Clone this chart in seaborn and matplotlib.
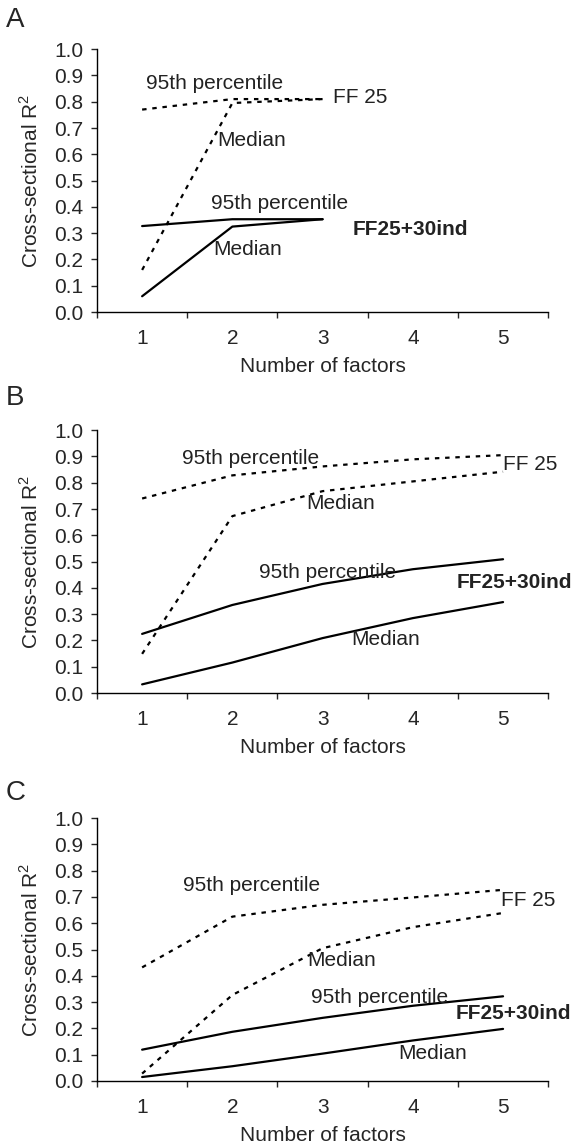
import pandas as pd
import seaborn as sns
import matplotlib.pyplot as plt
from matplotlib.ticker import FixedLocator

# Panel A: only 1-3 factors
a_factors = [1, 2, 3]
a_ff25_p95 = [0.77, 0.81, 0.81]
a_ff25_med = [0.16, 0.795, 0.81]
a_ind_p95 = [0.327, 0.353, 0.353]
a_ind_med = [0.06, 0.325, 0.353]

# Panel B
b_factors = [1, 2, 3, 4, 5]
b_ff25_p95 = [0.74, 0.828, 0.862, 0.889, 0.905]
b_ff25_med = [0.149, 0.673, 0.768, 0.805, 0.842]
b_ind_p95 = [0.225, 0.335, 0.415, 0.471, 0.509]
b_ind_med = [0.033, 0.116, 0.209, 0.285, 0.346]

# Panel C
c_factors = [1, 2, 3, 4, 5]
c_ff25_p95 = [0.432, 0.625, 0.67, 0.698, 0.727]
c_ff25_med = [0.028, 0.327, 0.505, 0.585, 0.639]
c_ind_p95 = [0.119, 0.187, 0.24, 0.286, 0.322]
c_ind_med = [0.015, 0.056, 0.104, 0.154, 0.198]

x_ticks = [1, 2, 3, 4, 5]
y_ticks = [0.0, 0.1, 0.2, 0.3, 0.4, 0.5, 0.6, 0.7, 0.8, 0.9, 1.0]

# annotation text positions per panel: (text, x, y, bold)
a_notes = [('95th percentile', 1.044, 0.871, False), ('FF 25', 3.12, 0.817, False),
           ('Median', 1.83, 0.654, False), ('95th percentile', 1.76, 0.414, False),
           ('FF25+30ind', 3.33, 0.315, True), ('Median', 1.79, 0.236, False)]
b_notes = [('95th percentile', 1.44, 0.893, False), ('FF 25', 5.0, 0.87, False),
           ('Median', 2.82, 0.721, False), ('95th percentile', 2.29, 0.458, False),
           ('FF25+30ind', 4.49, 0.42, True), ('Median', 3.32, 0.202, False)]
c_notes = [('95th percentile', 1.456, 0.745, False), ('FF 25', 4.978, 0.688, False),
           ('Median', 2.833, 0.46, False), ('95th percentile', 2.867, 0.316, False),
           ('FF25+30ind', 4.478, 0.255, True), ('Median', 3.833, 0.106, False)]

sns.set_style('ticks')
plt.rcParams['font.family'] = ['Liberation Sans', 'DejaVu Sans']
plt.rcParams['mathtext.fontset'] = 'custom'
plt.rcParams['mathtext.rm'] = 'Liberation Sans'
FS = 15
DASH = (0, (2.0, 2.6))


def draw_panel(ax, factors, ff25_p95, ff25_med, ind_p95, ind_med, notes):
    df = pd.DataFrame({'factors': factors, 'ff25_p95': ff25_p95, 'ff25_med': ff25_med,
                       'ind_p95': ind_p95, 'ind_med': ind_med})
    for col in ['ff25_p95', 'ff25_med']:
        sns.lineplot(data=df, x='factors', y=col, ax=ax, color='black', lw=1.6, linestyle=DASH)
    for col in ['ind_p95', 'ind_med']:
        sns.lineplot(data=df, x='factors', y=col, ax=ax, color='black', lw=1.6)
    for txt, x, y, bold in notes:
        ax.text(x, y, txt, fontsize=FS, ha='left', va='center', color='#222222',
                fontweight='bold' if bold else 'normal')
    ax.set_xlim(0.5, 5.5)
    ax.set_ylim(0, 1.0)
    ax.set_xticks(x_ticks)
    ax.xaxis.set_minor_locator(FixedLocator([0.5, 1.5, 2.5, 3.5, 4.5, 5.5]))
    ax.tick_params(axis='x', which='major', length=0, pad=12, labelsize=FS)
    ax.tick_params(axis='x', which='minor', length=4, width=1, direction='out')
    ax.set_yticks(y_ticks)
    ax.set_yticklabels([f'{v:.1f}' for v in y_ticks])
    ax.tick_params(axis='y', length=4, width=1, pad=6, labelsize=FS)
    ax.set_xlabel('Number of factors', fontsize=FS, labelpad=7)
    ax.set_ylabel(r'Cross-sectional R$^\mathregular{2}$', fontsize=FS, labelpad=9)
    for s in ['left', 'bottom']:
        ax.spines[s].set_linewidth(1)
        ax.spines[s].set_color('black')
    sns.despine(ax=ax)


fig = plt.figure(figsize=(5.74, 11.48), dpi=100)
ax_a = fig.add_axes([0.169, 0.7282, 0.786, 0.229])
ax_b = fig.add_axes([0.169, 0.3963, 0.786, 0.229])
ax_c = fig.add_axes([0.169, 0.0584, 0.786, 0.229])

draw_panel(ax_a, a_factors, a_ff25_p95, a_ff25_med, a_ind_p95, a_ind_med, a_notes)
draw_panel(ax_b, b_factors, b_ff25_p95, b_ff25_med, b_ind_p95, b_ind_med, b_notes)
draw_panel(ax_c, c_factors, c_ff25_p95, c_ff25_med, c_ind_p95, c_ind_med, c_notes)

fig.text(0.010, 1 - 20 / 1148, 'A', fontsize=20, va='center', ha='left')
fig.text(0.010, 1 - 398 / 1148, 'B', fontsize=20, va='center', ha='left')
fig.text(0.010, 1 - 793 / 1148, 'C', fontsize=20, va='center', ha='left')

fig.savefig('out.png', dpi=100, facecolor='white')
plt.close(fig)
